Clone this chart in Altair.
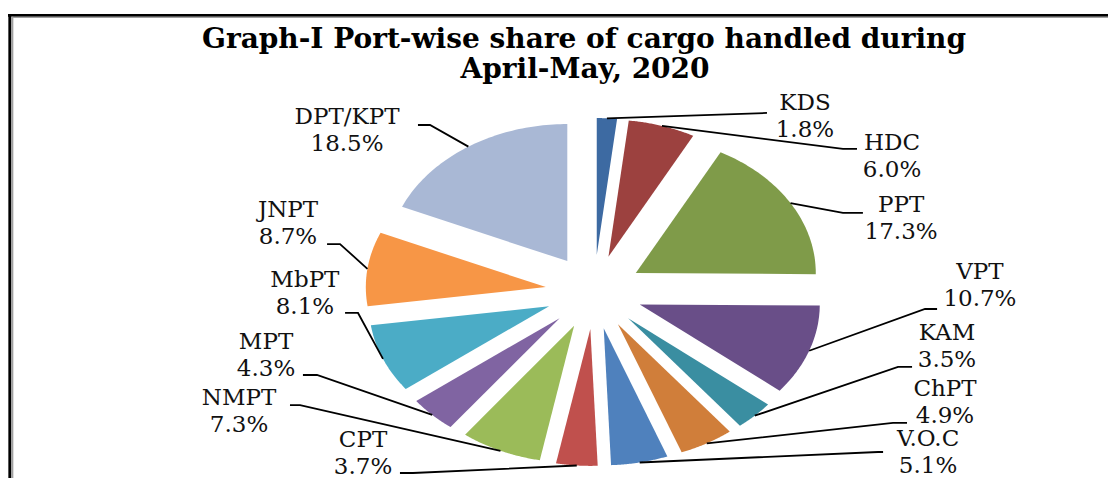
import altair as alt
import pandas as pd

# ---------------- data ----------------
ports = ["KDS", "HDC", "PPT", "VPT", "KAM", "ChPT", "V.O.C", "CPT",
         "NMPT", "MPT", "MbPT", "JNPT", "DPT/KPT"]
shares = [1.8, 6.0, 17.3, 10.7, 3.5, 4.9, 5.1, 3.7, 7.3, 4.3, 8.1, 8.7, 18.5]
colors = ["#3D6AA2", "#9C413F", "#7F9B49", "#694E88", "#3A8EA1", "#D07E3A",
          "#4F81BD", "#C0504D", "#9BBB59", "#8064A2", "#4BACC6", "#F79646",
          "#A9B8D5"]

title_line1 = "Graph-I Port-wise share of cargo handled during"
title_line2 = "April-May, 2020"

# label layout, in pie units (pie radius = 1, y up)
label_x = [1.172, 1.656, 1.706, 2.144, 1.961, 1.950, 1.856, -1.283, -1.972, -1.822, -1.606, -1.700, -1.372]
label_y = [1.281, 0.989, 0.536, 0.051, -0.398, -0.807, -1.175, -1.182, -0.872, -0.460, -0.011, 0.500, 1.179]
elbow_x = [0.961, 1.383, 1.383, 1.839, 1.689, 1.661, 1.578, -1.006, -1.633, -1.539, -1.311, -1.411, -0.911]
end_x = [0.961, 1.461, 1.494, 1.906, 1.767, 1.739, 1.606, -1.078, -1.689, -1.617, -1.383, -1.483, -0.978]
end_y = [1.307, 1.044, 0.577, -0.124, -0.547, -0.956, -1.168, -1.321, -0.825, -0.606, -0.153, 0.350, 1.219]

# ---------------- geometry / layout ----------------
W, H = 1100, 470
CX, CY = 586, 284          # pie centre in chart pixels
RX, RY = 180, 137          # pie radii (elliptical pie)
EXPLODE = 0.27
NSTEP = 60

xs = alt.Scale(domain=[(0 - CX) / RX, (W - CX) / RX], range=[0, W], nice=False, zero=False)
ys = alt.Scale(domain=[(CY - H) / RY, CY / RY], range=[H, 0], nice=False, zero=False)

df = pd.DataFrame({"port": ports, "share": shares, "idx": list(range(len(ports)))})
lab = df.assign(tx=label_x, ty=label_y, bx=elbow_x, ex=end_x, ey=end_y)


def with_angles(chart):
    return chart.transform_joinaggregate(total="sum(share)").transform_window(
        cum="sum(share)", sort=[alt.SortField("idx")], frame=[None, 0]
    ).transform_calculate(
        a0="2*PI*(datum.cum - datum.share)/datum.total",
        a1="2*PI*datum.cum/datum.total",
    ).transform_calculate(am="(datum.a0 + datum.a1)/2")


slices = with_angles(alt.Chart(df)).transform_calculate(
    k=f"sequence(0, {NSTEP + 2})"
).transform_flatten(["k"]).transform_calculate(
    t=f"datum.k == 0 ? 0 : datum.a0 + (datum.a1 - datum.a0) * (datum.k - 1) / {NSTEP}",
    r="datum.k == 0 ? 0 : 1",
).transform_calculate(
    px=f"{EXPLODE}*sin(datum.am) + datum.r*sin(datum.t)",
    py=f"{EXPLODE}*cos(datum.am) + datum.r*cos(datum.t)",
).mark_line(interpolate="linear-closed", strokeOpacity=0).encode(
    x=alt.X("px:Q", scale=xs, axis=None),
    y=alt.Y("py:Q", scale=ys, axis=None),
    order=alt.Order("k:Q"),
    detail="port:N",
    fill=alt.Fill("port:N", scale=alt.Scale(domain=ports, range=colors), legend=None),
)

leaders = with_angles(alt.Chart(lab)).transform_calculate(
    k="sequence(0, 3)"
).transform_flatten(["k"]).transform_calculate(
    lx=f"datum.k == 0 ? {1 + EXPLODE}*sin(datum.am) : (datum.k == 1 ? datum.bx : datum.ex)",
    ly=f"datum.k == 0 ? {1 + EXPLODE}*cos(datum.am) : datum.ey",
).mark_line(color="black", strokeWidth=1.8).encode(
    x=alt.X("lx:Q", scale=xs, axis=None),
    y=alt.Y("ly:Q", scale=ys, axis=None),
    order=alt.Order("k:Q"),
    detail="port:N",
)

lab_font = dict(font="DejaVu Serif", fontSize=23, color="#111111", align="center", baseline="middle")
names = alt.Chart(lab).mark_text(dy=-13.5, **lab_font).encode(
    x=alt.X("tx:Q", scale=xs, axis=None),
    y=alt.Y("ty:Q", scale=ys, axis=None),
    text="port:N",
)
pcts = alt.Chart(lab).transform_calculate(
    pct="format(datum.share, '.1f') + '%'"
).mark_text(dy=13.5, **lab_font).encode(
    x=alt.X("tx:Q", scale=xs, axis=None),
    y=alt.Y("ty:Q", scale=ys, axis=None),
    text="pct:N",
)

tfont = dict(font="DejaVu Serif", fontSize=28, fontWeight="bold", color="black",
             align="center", baseline="middle")
title1 = alt.Chart(pd.DataFrame({"t": [title_line1]})).mark_text(**tfont).encode(
    x=alt.value(576), y=alt.value(32), text="t:N")
title2 = alt.Chart(pd.DataFrame({"t": [title_line2]})).mark_text(**tfont).encode(
    x=alt.value(577), y=alt.value(62), text="t:N")

one = pd.DataFrame({"a": [0]})
frame_top = alt.Chart(one).mark_rule(color="black", strokeWidth=2.7).encode(
    x=alt.value(0), x2=alt.value(W), y=alt.value(7.3))
frame_top2 = alt.Chart(one).mark_rule(color="#a0a0a0", strokeWidth=1.3).encode(
    x=alt.value(4), x2=alt.value(W), y=alt.value(9.4))
frame_left = alt.Chart(one).mark_rule(color="black", strokeWidth=2.7).encode(
    x=alt.value(1.7), y=alt.value(6), y2=alt.value(H))
frame_left2 = alt.Chart(one).mark_rule(color="#a0a0a0", strokeWidth=2.3).encode(
    x=alt.value(4.2), y=alt.value(8.7), y2=alt.value(H))

chart = alt.layer(
    slices, leaders, names, pcts, title1, title2,
    frame_top, frame_top2, frame_left, frame_left2,
).properties(
    width=W, height=H, padding=0,
    autosize=alt.AutoSizeParams(type="none"),
    background="white",
).configure_view(stroke=None)

chart.save("out.html", embed_options={"renderer": "svg", "actions": False})
